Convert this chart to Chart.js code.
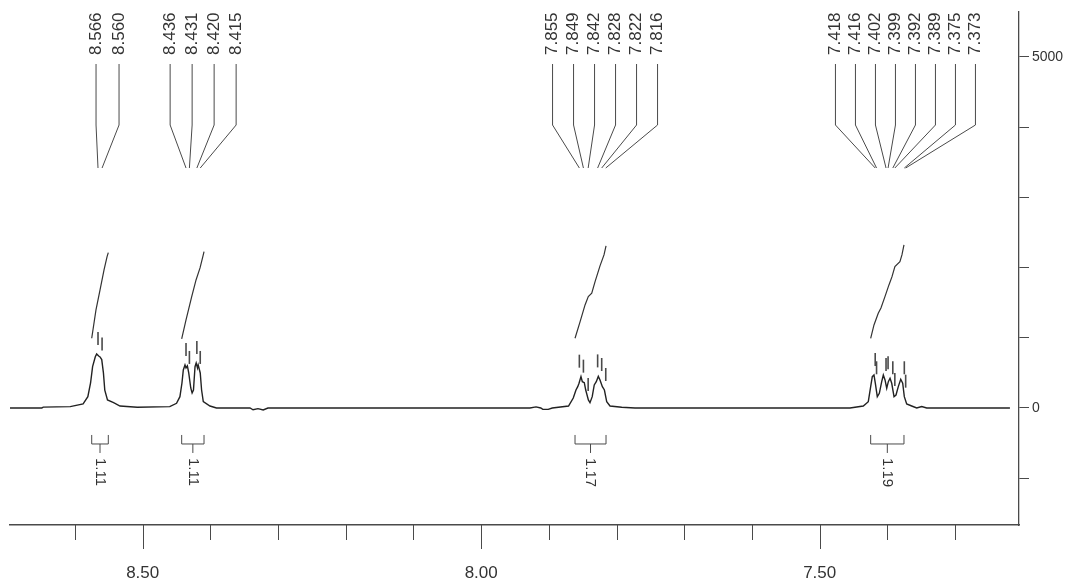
<!DOCTYPE html>
<html>
<head>
    <title>1H NMR aromatic region</title>
    <style>
        html, body { margin: 0; padding: 0; background: #fff; }
        #wrap { position: relative; width: 1075px; height: 585px; }
    </style>
    <script src="https://cdn.jsdelivr.net/npm/chart.js"></script>
</head>
<body>
<div id="wrap"><canvas id="nmr"></canvas></div>
<script>
// spectrum trace (shift in ppm, intensity)
var spectrumPpm = [8.696, 8.649, 8.647, 8.607, 8.588, 8.581, 8.577, 8.574, 8.570, 8.568, 8.565, 8.563, 8.5605, 8.558, 8.556, 8.552, 8.543, 8.5335, 8.508,
    8.460, 8.450, 8.445, 8.442, 8.440, 8.4375, 8.436, 8.434, 8.432, 8.429, 8.427, 8.425, 8.4227, 8.421, 8.419, 8.418, 8.415, 8.413, 8.4105, 8.4006, 8.391,
    8.3415, 8.337, 8.3297, 8.322, 8.315,
    7.928, 7.919, 7.912, 7.909, 7.901, 7.895,
    7.871, 7.864, 7.860, 7.8574, 7.8555, 7.8526, 7.8506, 7.8477, 7.8456, 7.8417, 7.8393, 7.836, 7.833, 7.830, 7.827, 7.8245, 7.821, 7.818, 7.8146, 7.8097, 7.7924, 7.7728,
    7.4552, 7.4356, 7.4282, 7.4247, 7.4223, 7.4198, 7.4178, 7.4149, 7.4119, 7.4084, 7.406, 7.4035, 7.401, 7.3986, 7.3961, 7.3936, 7.3902, 7.3873, 7.3839, 7.3803, 7.3774, 7.375, 7.3715, 7.3641, 7.3567, 7.3493, 7.3419, 7.219];
var spectrumInt = [0, 0, 12, 20, 57, 160, 356, 590, 730, 770, 740, 727, 690, 500, 255, 114, 75, 28, 10,
    20, 67, 161, 356, 541, 613, 570, 600, 499, 285, 214, 256, 588, 641, 570, 613, 499, 256, 90, 28, 0,
    0, -25, -10, -28, 0,
    0, 15, 0, -20, -20, 0,
    28, 142, 256, 304, 352, 446, 375, 360, 256, 114, 75, 161, 328, 375, 450, 399, 304, 256, 90, 28, 10, 0,
    0, 28, 90, 304, 446, 470, 352, 161, 209, 375, 470, 399, 281, 375, 423, 352, 161, 185, 304, 409, 352, 161, 57, 28, 0, 20, 0, 0];

// integral curves
var integralPpm = [
    [8.5753, 8.569, 8.563, 8.5571, 8.5527, 8.5508],
    [8.4424, 8.436, 8.4276, 8.4212, 8.4153, 8.4109, 8.4094],
    [7.8614, 7.854, 7.8466, 7.8418, 7.8367, 7.8319, 7.8245, 7.8186, 7.8156],
    [7.4247, 7.4198, 7.4135, 7.4095, 7.4036, 7.3977, 7.3933, 7.3889, 7.3815, 7.3785, 7.3755]
];
var integralVal = [
    [993, 1397, 1682, 1967, 2152, 2213],
    [983, 1254, 1586, 1824, 1995, 2166, 2227],
    [993, 1226, 1468, 1586, 1634, 1796, 2024, 2180, 2309],
    [993, 1183, 1349, 1425, 1586, 1753, 1867, 2014, 2085, 2180, 2323]
];
var integralLabels = ['1.11', '1.11', '1.17', '1.19'];

// peak picks, grouped by multiplet
var peakGroups = [
    [8.566, 8.560],
    [8.436, 8.431, 8.420, 8.415],
    [7.855, 7.849, 7.842, 7.828, 7.822, 7.816],
    [7.418, 7.416, 7.402, 7.399, 7.392, 7.389, 7.375, 7.373]
];

var xTickLabels = [8.50, 8.00, 7.50];
var yTickLabels = [0, 5000];

var TXT = '#333';
var LINE = '#4a4a4a';

var datasets = [{
    data: spectrumPpm.map(function(p, i) { return {x: p, y: spectrumInt[i]}; }),
    borderColor: '#222',
    borderWidth: 1.4,
    pointRadius: 0,
    fill: false
}];
integralPpm.forEach(function(arr, k) {
    datasets.push({
        data: arr.map(function(p, i) { return {x: p, y: integralVal[k][i]}; }),
        borderColor: '#333',
        borderWidth: 1.2,
        pointRadius: 0,
        fill: false
    });
});

var annotate = {
    id: 'annotate',
    afterDraw: function(chart) {
        var ctx = chart.ctx;
        var xs = chart.scales.x, ys = chart.scales.y;
        var area = chart.chartArea;
        ctx.save();
        ctx.strokeStyle = LINE;
        ctx.lineWidth = 1;

        // x ticks, long ones at the labelled values
        xs.ticks.forEach(function(t) {
            var px = Math.round(xs.getPixelForValue(t.value)) + 0.5;
            var major = xTickLabels.some(function(v) { return Math.abs(v - t.value) < 1e-6; });
            ctx.beginPath();
            ctx.moveTo(px, area.bottom);
            ctx.lineTo(px, area.bottom + (major ? 24 : 15));
            ctx.stroke();
        });

        // peak labels and their leader lines
        ctx.font = '17px "Liberation Sans", Arial, sans-serif';
        ctx.fillStyle = TXT;
        peakGroups.forEach(function(g) {
            var n = g.length;
            var px = g.map(function(p) { return xs.getPixelForValue(p); });
            var mid = (Math.min.apply(null, px) + Math.max.apply(null, px)) / 2 + 5 + 1.25 * n;
            var gap = 24 - 0.5 * n;
            g.forEach(function(p, i) {
                var lx = mid + (i - (n - 1) / 2) * gap;
                ctx.save();
                ctx.translate(lx, area.top + 43);
                ctx.rotate(-Math.PI / 2);
                ctx.textAlign = 'left';
                ctx.textBaseline = 'middle';
                ctx.fillText(p.toFixed(3), 0, 0);
                ctx.restore();
                ctx.beginPath();
                ctx.moveTo(lx, area.top + 52);
                ctx.lineTo(lx, area.top + 113);
                ctx.lineTo(px[i], area.top + 156);
                ctx.stroke();

                // small pick mark above the peak
                var top = 0;
                spectrumPpm.forEach(function(s, j) {
                    if (Math.abs(s - p) < 0.003 && spectrumInt[j] > top) top = spectrumInt[j];
                });
                var py = ys.getPixelForValue(top);
                ctx.save();
                ctx.lineWidth = 1.6;
                ctx.beginPath();
                ctx.moveTo(px[i], py - 22);
                ctx.lineTo(px[i], py - 9);
                ctx.stroke();
                ctx.restore();
            });
        });

        // integral brackets and values
        var y0 = ys.getPixelForValue(0);
        ctx.font = '15px "Liberation Sans", Arial, sans-serif';
        integralPpm.forEach(function(arr, k) {
            var x1 = xs.getPixelForValue(arr[0]);
            var x2 = xs.getPixelForValue(arr[arr.length - 1]);
            var xm = (x1 + x2) / 2;
            ctx.beginPath();
            ctx.moveTo(x1, y0 + 27);
            ctx.lineTo(x1, y0 + 36);
            ctx.lineTo(x2, y0 + 36);
            ctx.lineTo(x2, y0 + 27);
            ctx.moveTo(xm, y0 + 36);
            ctx.lineTo(xm, y0 + 45);
            ctx.stroke();
            ctx.save();
            ctx.translate(xm, y0 + 50);
            ctx.rotate(Math.PI / 2);
            ctx.textAlign = 'left';
            ctx.textBaseline = 'middle';
            ctx.fillText(integralLabels[k], 0, 0);
            ctx.restore();
        });
        ctx.restore();
    }
};

new Chart(document.getElementById('nmr'), {
    type: 'line',
    data: { datasets: datasets },
    options: {
        responsive: true,
        maintainAspectRatio: false,
        animation: false,
        layout: { padding: { left: 10, top: 12, right: 0, bottom: 0 } },
        plugins: { legend: { display: false }, tooltip: { enabled: false } },
        scales: {
            x: {
                type: 'linear',
                reverse: true,
                min: 7.2056,
                max: 8.696,
                position: 'bottom',
                afterBuildTicks: function(s) {
                    var t = [];
                    for (var v = 86; v >= 73; v--) t.push({value: v / 10});
                    s.ticks = t;
                },
                afterFit: function(s) { s.height = 60; },
                grid: { display: false },
                border: { display: true, color: LINE, width: 1.5 },
                ticks: {
                    autoSkip: false,
                    maxRotation: 0,
                    padding: 30,
                    color: TXT,
                    font: { family: '"Liberation Sans Narrow", "Liberation Sans", Arial', size: 17 },
                    callback: function(v) {
                        var hit = xTickLabels.some(function(l) { return Math.abs(l - v) < 1e-6; });
                        return hit ? v.toFixed(2) : '';
                    }
                }
            },
            y: {
                position: 'right',
                min: -1667,
                max: 5641,
                afterBuildTicks: function(s) {
                    var t = [];
                    for (var v = -1000; v <= 5000; v += 1000) t.push({value: v});
                    s.ticks = t;
                },
                afterFit: function(s) { s.width = 56; },
                grid: { drawOnChartArea: false, drawTicks: true, tickLength: 10, color: LINE },
                border: { display: true, color: LINE, width: 1.3 },
                ticks: {
                    padding: 3,
                    color: TXT,
                    font: { family: '"Liberation Sans", Arial', size: 14 },
                    callback: function(v) { return yTickLabels.indexOf(v) >= 0 ? String(v) : ''; }
                }
            }
        }
    },
    plugins: [annotate]
});
</script>
</body>
</html>
